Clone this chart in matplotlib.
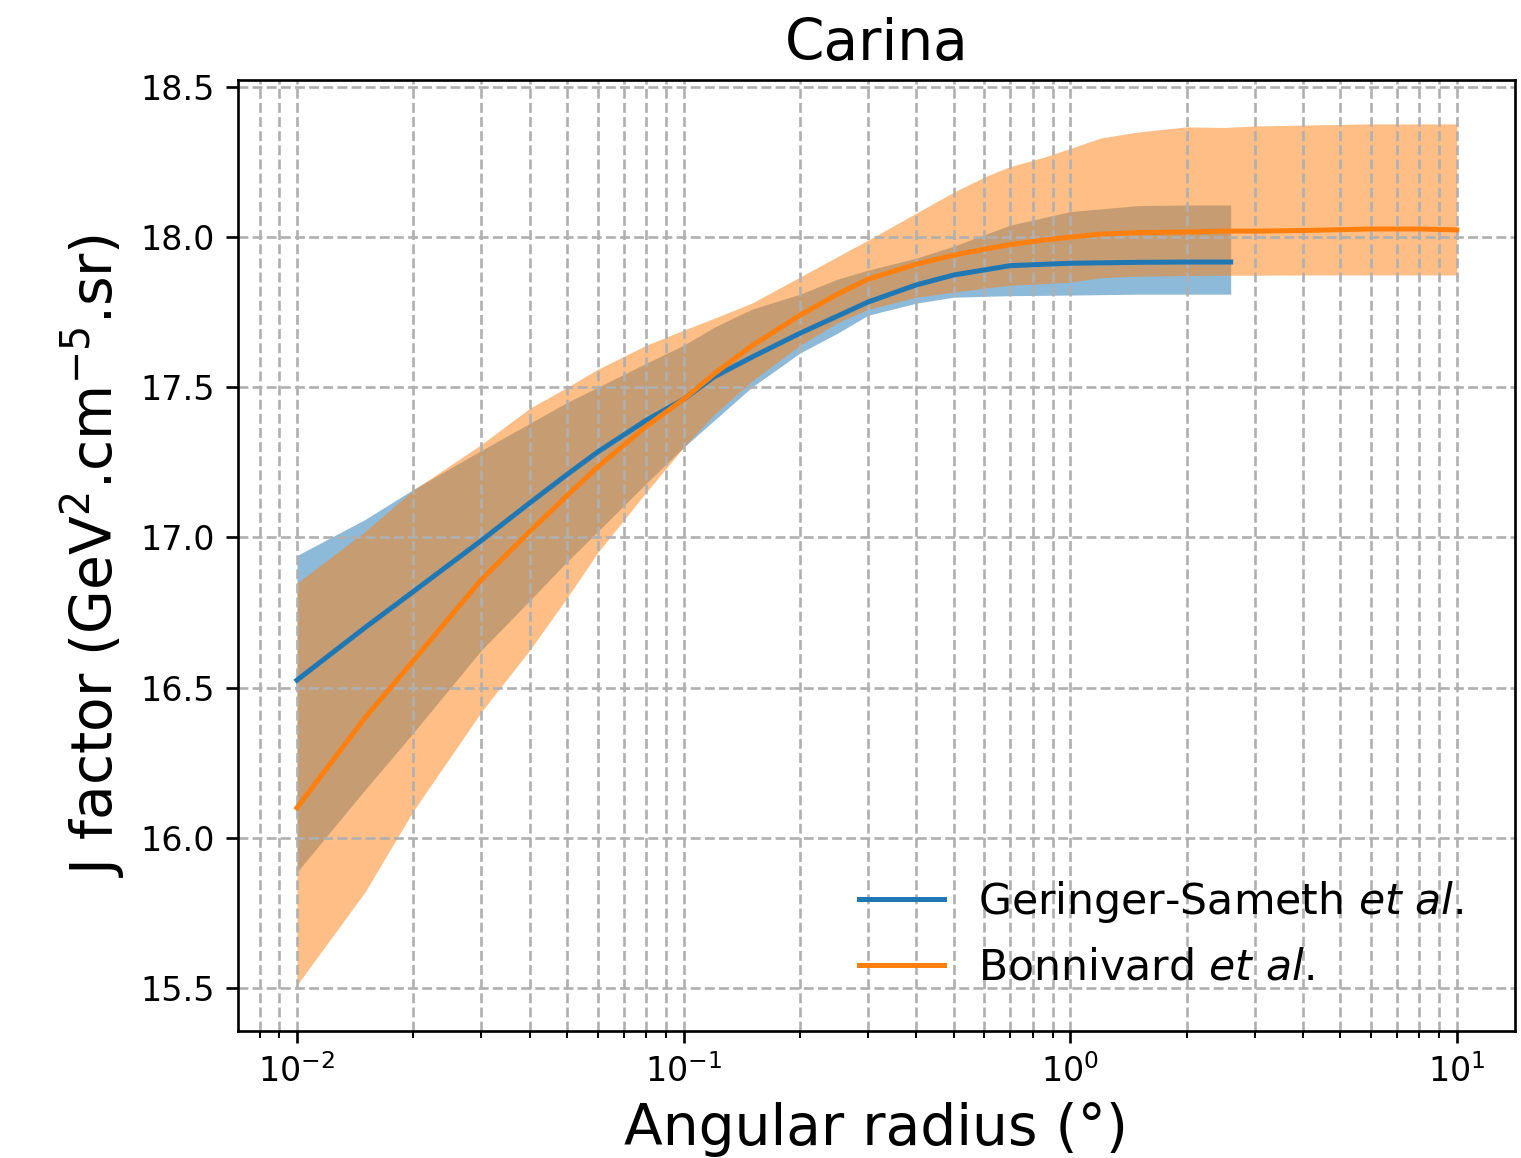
import numpy as np
import matplotlib
matplotlib.use("Agg")
import matplotlib.pyplot as plt

# Geringer-Sameth et al.
x_gs = [0.01, 0.015, 0.02, 0.03, 0.04, 0.05, 0.06, 0.08, 0.1, 0.12, 0.15, 0.2,
        0.25, 0.3, 0.4, 0.5, 0.7, 1.0, 1.5, 2.0, 2.6]
j_gs = [16.525, 16.70, 16.82, 16.99, 17.115, 17.21, 17.285, 17.39, 17.46, 17.535,
        17.60, 17.68, 17.737, 17.784, 17.841, 17.874, 17.905, 17.913, 17.916,
        17.917, 17.917]
j_gs_hi = [16.94, 17.06, 17.16, 17.29, 17.38, 17.45, 17.50, 17.58, 17.64, 17.70,
           17.76, 17.81, 17.86, 17.89, 17.93, 17.97, 18.04, 18.085, 18.105,
           18.107, 18.107]
j_gs_lo = [15.886, 16.16, 16.35, 16.625, 16.79, 16.92, 17.02, 17.18, 17.30,
           17.39, 17.50, 17.614, 17.68, 17.74, 17.78, 17.80, 17.805, 17.807,
           17.81, 17.81, 17.81]

# Bonnivard et al.
x_bo = [0.01, 0.015, 0.02, 0.03, 0.04, 0.05, 0.06, 0.08, 0.1, 0.12, 0.15, 0.2,
        0.25, 0.3, 0.4, 0.5, 0.6, 0.7, 0.85, 1.0, 1.2, 1.5, 2.0, 2.5, 3.0, 4.0,
        6.0, 8.0, 10.0]
j_bo = [16.10, 16.40, 16.59, 16.86, 17.02, 17.14, 17.235, 17.37, 17.46, 17.545,
        17.638, 17.74, 17.81, 17.86, 17.91, 17.94, 17.96, 17.975, 17.99, 18.0,
        18.01, 18.015, 18.017, 18.02, 18.02, 18.022, 18.027, 18.027, 18.024]
j_bo_hi = [16.848, 17.02, 17.158, 17.31, 17.43, 17.50, 17.56, 17.64, 17.69,
           17.73, 17.78, 17.867, 17.935, 17.99, 18.08, 18.15, 18.20, 18.235,
           18.265, 18.295, 18.33, 18.35, 18.367, 18.365, 18.37, 18.373, 18.377,
           18.377, 18.377]
j_bo_lo = [15.51, 15.82, 16.09, 16.42, 16.625, 16.80, 16.95, 17.15, 17.30, 17.41,
           17.52, 17.64, 17.715, 17.76, 17.80, 17.817, 17.83, 17.84, 17.845,
           17.85, 17.865, 17.87, 17.872, 17.873, 17.873, 17.874, 17.874, 17.874,
           17.874]

fig = plt.figure(figsize=(1521 / 240, 1158 / 240), dpi=240)
ax = fig.add_axes([0.1565, 0.1097, 0.8395, 0.8212])

# bandes d'incertitude puis courbes médianes
ax.fill_between(x_gs, j_gs_lo, j_gs_hi, color='C0', alpha=0.5, lw=0)
ax.fill_between(x_bo, j_bo_lo, j_bo_hi, color='C1', alpha=0.5, lw=0)
ax.plot(x_gs, j_gs, color='C0', lw=1.5, label='Geringer-Sameth $et$ $al$.')
ax.plot(x_bo, j_bo, color='C1', lw=1.5, label='Bonnivard $et$ $al$.')

ax.set_xscale('log')
ax.set_xlim(0.00704, 14.13)
ax.set_ylim(15.357, 18.523)
ax.set_yticks([15.5, 16.0, 16.5, 17.0, 17.5, 18.0, 18.5])
ax.grid(True, which='both', linestyle='--')

ax.set_title('Carina', fontsize=17)
ax.set_xlabel('Angular radius (°)', fontsize=17)
ax.set_ylabel('J factor (GeV$^2$.cm$^{-5}$.sr)', fontsize=17)
ax.legend(loc='lower right', bbox_to_anchor=(0.99, 0.004), frameon=False,
          fontsize=12.8)

fig.savefig('out.png', dpi=240)
